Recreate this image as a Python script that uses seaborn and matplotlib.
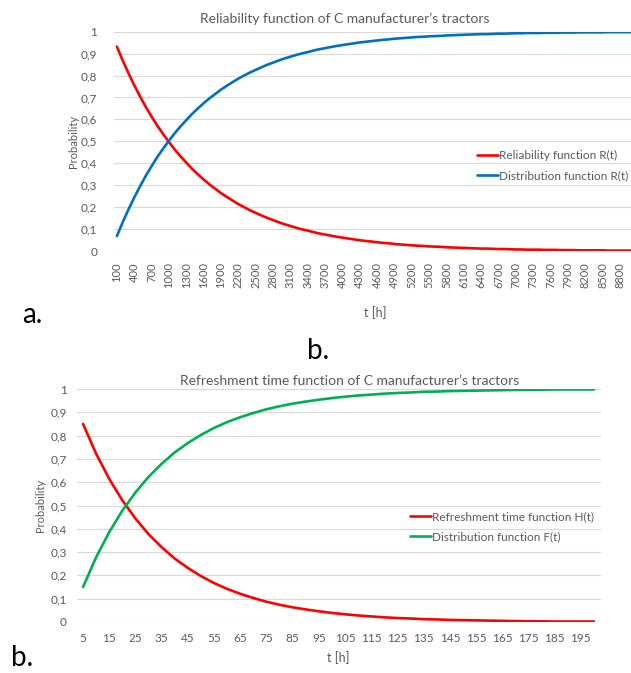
import pandas as pd
import seaborn as sns
import matplotlib.pyplot as plt

# chart a: reliability of tractors, t every 100 h
t_a = list(range(100, 9001, 100))
reliability = [
    0.932, 0.869, 0.811, 0.756, 0.705, 0.657, 0.613, 0.571, 0.533, 0.497,
    0.463, 0.432, 0.403, 0.375, 0.350, 0.326, 0.304, 0.284, 0.264, 0.247,
    0.230, 0.214, 0.200, 0.186, 0.174, 0.162, 0.151, 0.141, 0.131, 0.122,
    0.114, 0.106, 0.099, 0.093, 0.086, 0.080, 0.075, 0.070, 0.065, 0.061,
    0.057, 0.053, 0.049, 0.046, 0.043, 0.040, 0.037, 0.035, 0.032, 0.030,
    0.028, 0.026, 0.024, 0.023, 0.021, 0.020, 0.019, 0.017, 0.016, 0.015,
    0.014, 0.013, 0.012, 0.011, 0.011, 0.010, 0.009, 0.009, 0.008, 0.007,
    0.007, 0.006, 0.006, 0.006, 0.005, 0.005, 0.005, 0.004, 0.004, 0.004,
    0.003, 0.003, 0.003, 0.003, 0.003, 0.002, 0.002, 0.002, 0.002, 0.002,
]
distribution_a = [
    0.068, 0.131, 0.189, 0.244, 0.295, 0.343, 0.387, 0.429, 0.467, 0.503,
    0.537, 0.568, 0.597, 0.625, 0.650, 0.674, 0.696, 0.716, 0.736, 0.753,
    0.770, 0.786, 0.800, 0.814, 0.826, 0.838, 0.849, 0.859, 0.869, 0.878,
    0.886, 0.894, 0.901, 0.907, 0.914, 0.920, 0.925, 0.930, 0.935, 0.939,
    0.943, 0.947, 0.951, 0.954, 0.957, 0.960, 0.963, 0.965, 0.968, 0.970,
    0.972, 0.974, 0.976, 0.977, 0.979, 0.980, 0.981, 0.983, 0.984, 0.985,
    0.986, 0.987, 0.988, 0.989, 0.989, 0.990, 0.991, 0.991, 0.992, 0.993,
    0.993, 0.994, 0.994, 0.994, 0.995, 0.995, 0.995, 0.996, 0.996, 0.996,
    0.997, 0.997, 0.997, 0.997, 0.997, 0.998, 0.998, 0.998, 0.998, 0.998,
]

# chart b: refreshment time, t every 5 h
t_b = list(range(5, 201, 5))
refreshment = [
    0.850, 0.722, 0.614, 0.522, 0.444, 0.377, 0.321, 0.272, 0.232, 0.197,
    0.167, 0.142, 0.121, 0.103, 0.087, 0.074, 0.063, 0.054, 0.046, 0.039,
    0.033, 0.028, 0.024, 0.020, 0.017, 0.015, 0.012, 0.011, 0.009, 0.008,
    0.007, 0.006, 0.005, 0.004, 0.003, 0.003, 0.002, 0.002, 0.002, 0.002,
]
distribution_b = [
    0.150, 0.278, 0.386, 0.478, 0.556, 0.623, 0.679, 0.728, 0.768, 0.803,
    0.833, 0.858, 0.879, 0.897, 0.913, 0.926, 0.937, 0.946, 0.954, 0.961,
    0.967, 0.972, 0.976, 0.980, 0.983, 0.985, 0.988, 0.989, 0.991, 0.992,
    0.993, 0.994, 0.995, 0.996, 0.997, 0.997, 0.998, 0.998, 0.998, 0.998,
]

y_ticks = [0, 0.1, 0.2, 0.3, 0.4, 0.5, 0.6, 0.7, 0.8, 0.9, 1]
y_labels = ["0", "0,1", "0,2", "0,3", "0,4", "0,5", "0,6", "0,7", "0,8", "0,9", "1"]
x_ticks_a = list(range(100, 8801, 300))
x_ticks_b = list(range(5, 196, 10))

RED = "#FF0000"
BLUE = "#0070C0"
GREEN = "#00B050"
GREY = "#595959"

sns.set_style("white")
plt.rcParams["font.family"] = ["Lato", "DejaVu Sans"]

W, H = 631, 673
fig = plt.figure(figsize=(W / 100, H / 100), dpi=100)
ax1 = fig.add_axes([114 / W, 1 - 251 / H, 517 / W, 219.3 / H])
ax2 = fig.add_axes([76.5 / W, 1 - 622 / H, 524 / W, 233 / H])

df_a = pd.DataFrame({"t": t_a, "rel": reliability, "dist": distribution_a})
df_b = pd.DataFrame({"t": t_b, "ref": refreshment, "dist": distribution_b})

sns.lineplot(data=df_a, x="t", y="rel", color=RED, linewidth=1.9, ax=ax1,
             label="Reliability function R(t)")
sns.lineplot(data=df_a, x="t", y="dist", color=BLUE, linewidth=1.9, ax=ax1,
             label="Distribution function R(t)")
sns.lineplot(data=df_b, x="t", y="ref", color=RED, linewidth=1.9, ax=ax2,
             label="Refreshment time function H(t)")
sns.lineplot(data=df_b, x="t", y="dist", color=GREEN, linewidth=1.9, ax=ax2,
             label="Distribution function F(t)")


def style_axis(ax, xticks, xlim, ypad, rot, xsize):
    ax.set_xlim(*xlim)
    ax.set_ylim(0, 1)
    ax.set_yticks(y_ticks)
    ax.set_yticklabels(y_labels)
    ax.set_xticks(xticks)
    ax.set_xticklabels([str(v) for v in xticks], rotation=rot)
    ax.grid(axis="y", color="#D9D9D9", linewidth=0.8)
    ax.set_axisbelow(True)
    for s in ax.spines.values():
        s.set_visible(False)
    ax.tick_params(axis="y", length=0, pad=ypad, labelsize=8.5, labelcolor=GREY)
    ax.tick_params(axis="x", length=0, pad=8, labelsize=xsize, labelcolor=GREY)
    ax.set_xlabel("")
    ax.set_ylabel("Probability", fontsize=8, color=GREY)


style_axis(ax1, x_ticks_a, (50, 8990), 12, 90, 8)
style_axis(ax2, x_ticks_b, (2.5, 202.5), 7, 0, 8.5)
ax1.yaxis.set_label_coords(-0.067, 0.5)
ax2.yaxis.set_label_coords(-0.058, 0.5)

for ax, x, y in [(ax1, 477, 150), (ax2, 410, 511)]:
    leg = ax.legend(loc="upper left", bbox_to_anchor=(x / W, 1 - y / H),
                    bbox_transform=fig.transFigure, frameon=False, fontsize=8.5,
                    handlelength=1.75, handletextpad=0.15, borderpad=0,
                    borderaxespad=0, labelspacing=0.75)
    for txt in leg.get_texts():
        txt.set_color(GREY)

fig.text(345 / W, 1 - 19 / H, "Reliability function of C manufacturer’s tractors",
         ha="center", va="center", fontsize=10, color=GREY)
fig.text(350 / W, 1 - 381 / H, "Refreshment time function of C manufacturer’s tractors",
         ha="center", va="center", fontsize=10, color=GREY)
fig.text(375 / W, 1 - 313 / H, "t [h]", ha="center", va="center", fontsize=9, color=GREY)
fig.text(338 / W, 1 - 658 / H, "t [h]", ha="center", va="center", fontsize=9, color=GREY)

fig.text(32 / W, 1 - 315 / H, "a.", ha="center", va="center", fontsize=20, color="black")
fig.text(318 / W, 1 - 351 / H, "b.", ha="center", va="center", fontsize=20, color="black")
fig.text(22 / W, 1 - 658 / H, "b.", ha="center", va="center", fontsize=20, color="black")

fig.savefig("out.png", dpi=100)
